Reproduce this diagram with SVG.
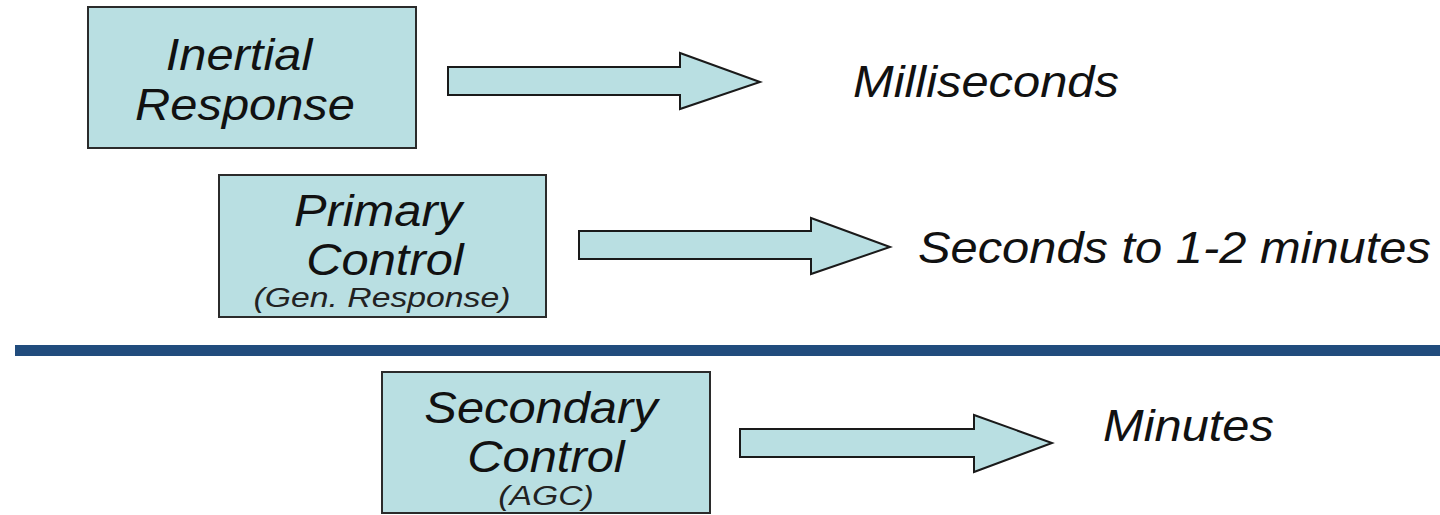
<svg xmlns="http://www.w3.org/2000/svg" width="1440" height="515" viewBox="0 0 1440 515">
<style>
.box{fill:#B9DFE2;stroke:#2b2b2b;stroke-width:2}
.arr{fill:#B9DFE2;stroke:#1a1a1a;stroke-width:2;stroke-linejoin:miter}
.t{font-family:"Liberation Sans",Arial,sans-serif;font-style:italic;fill:#111;font-size:45px}
.s{font-family:"Liberation Sans",Arial,sans-serif;font-style:italic;fill:#222;font-size:27px}
</style>
<rect width="1440" height="515" fill="#fff"/>
<rect x="15" y="345" width="1425" height="11" fill="#214C7D"/>
<g id="inertial">
<rect class="box" x="88" y="7" width="328" height="141"/>
<text class="t" text-anchor="middle" transform="translate(239,70) scale(1.085,1)">Inertial</text>
<text class="t" text-anchor="middle" transform="translate(245,120) scale(1.085,1)">Response</text>
</g>
<g id="primary">
<rect class="box" x="219" y="175" width="327" height="142"/>
<text class="t" text-anchor="middle" transform="translate(378,226) scale(1.085,1)">Primary</text>
<text class="t" text-anchor="middle" transform="translate(385,275) scale(1.085,1)">Control</text>
<text class="s" text-anchor="middle" transform="translate(382,307) scale(1.25,1)">(Gen. Response)</text>
</g>
<g id="secondary">
<rect class="box" x="382" y="372" width="328" height="141"/>
<text class="t" text-anchor="middle" transform="translate(541,423) scale(1.085,1)">Secondary</text>
<text class="t" text-anchor="middle" transform="translate(546,472) scale(1.085,1)">Control</text>
<text class="s" text-anchor="middle" transform="translate(546,505) scale(1.25,1)">(AGC)</text>
</g>
<g id="milliseconds">
<text class="t" transform="translate(853,97) scale(1.085,1)">Milliseconds</text>
</g>
<g id="seconds">
<text class="t" transform="translate(918,263) scale(1.085,1)">Seconds to 1-2 minutes</text>
</g>
<g id="minutes">
<text class="t" transform="translate(1103,441) scale(1.085,1)">Minutes</text>
</g>
<g id="connectors">
<polygon class="arr" points="448,67 680,67 680,53 760,82 680,109 680,95 448,95"/>
<polygon class="arr" points="579,231 811,231 811,218 890,247 811,274 811,259 579,259"/>
<polygon class="arr" points="740,429 974,429 974,415 1052,443 974,472 974,457 740,457"/>
</g>
</svg>
